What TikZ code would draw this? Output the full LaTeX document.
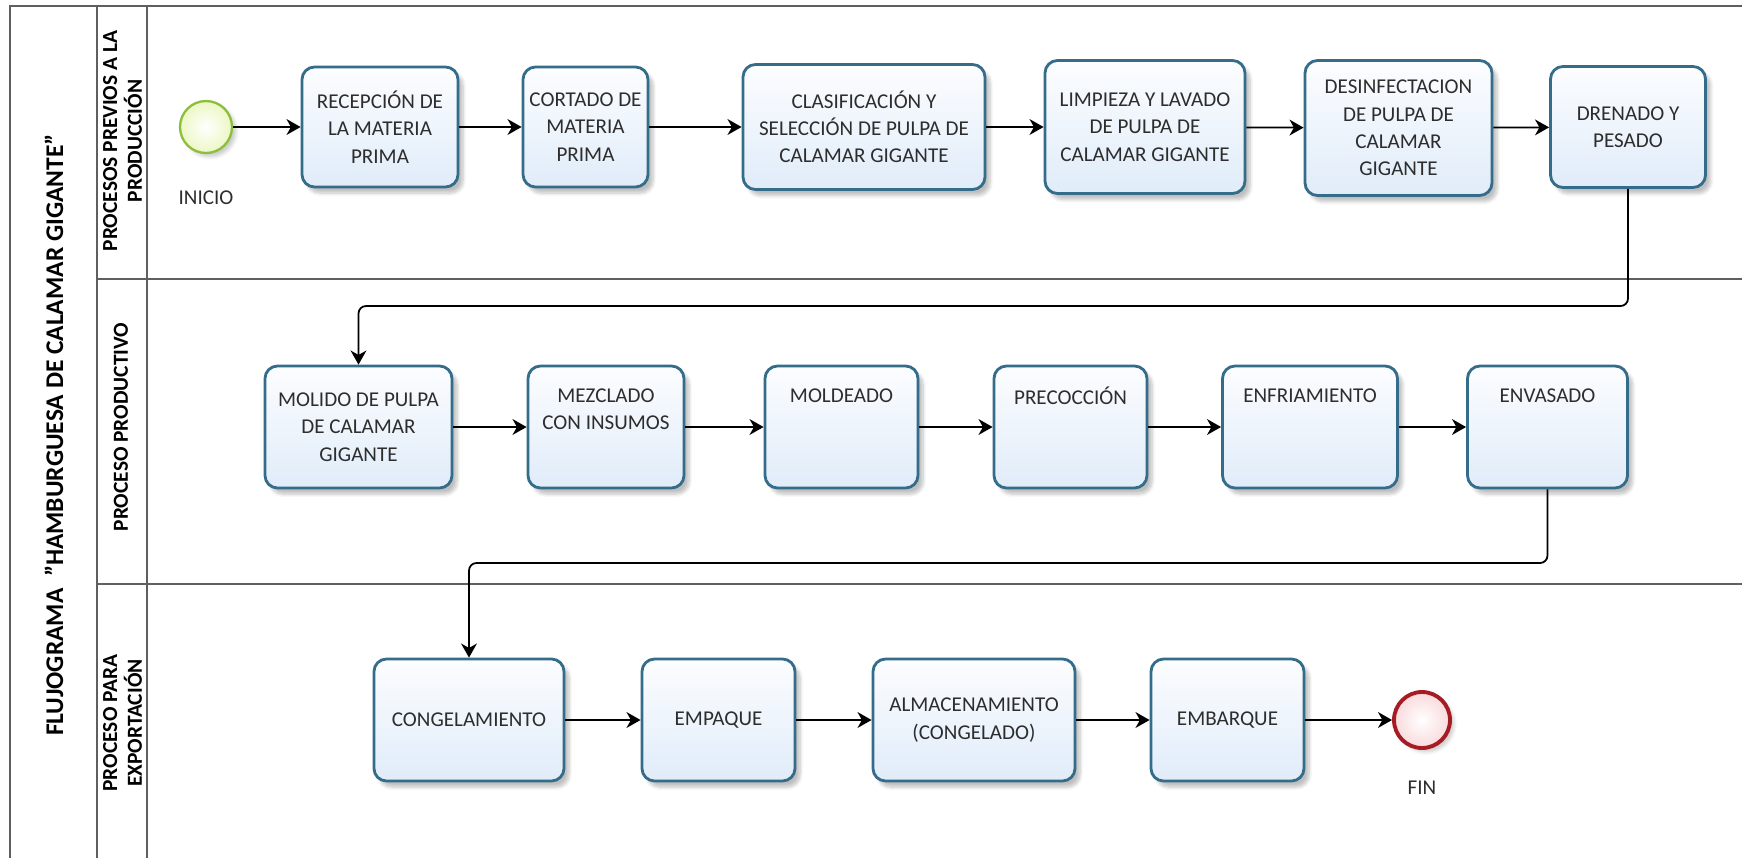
\documentclass[tikz,border=0pt]{standalone}
\usepackage{fontspec}
\setmainfont{Carlito}
\usetikzlibrary{arrows.meta,shadows.blur}
\definecolor{boxline}{RGB}{52,108,138}
\definecolor{boxtop}{RGB}{252,253,255}
\definecolor{boxbot}{RGB}{224,236,249}
\definecolor{laneline}{RGB}{95,95,95}
\definecolor{txt}{RGB}{45,45,45}
\definecolor{startline}{RGB}{140,190,60}
\definecolor{startfill}{RGB}{236,247,196}
\definecolor{endline}{RGB}{165,28,36}
\definecolor{endfill}{RGB}{249,218,220}
\tikzset{
  lane/.style={draw=laneline, line width=1.2pt},
  lanetext/.style={rotate=90, align=center, text=black,
      font=\bfseries\fontsize{12.2}{14}\selectfont}
}

\begin{document}
\begin{tikzpicture}[thick,
    main/.style = {draw=boxline, line width=1.6pt, rounded corners=0.25cm,
        top color=boxtop, bottom color=boxbot, align=center, inner sep=0pt,
        minimum height=2.44cm, text=txt, font=\fontsize{12}{15.5}\selectfont,
        blur shadow={shadow xshift=0.1cm, shadow yshift=-0.12cm,
            shadow opacity=25, shadow blur steps=6}},
    start/.style = {circle, draw=startline, line width=1.3pt, minimum size=1.04cm,
        inner color=white, outer color=startfill,
        blur shadow={shadow xshift=0.08cm, shadow yshift=-0.08cm, shadow opacity=20}},
    stop/.style = {circle, draw=endline, line width=2.2pt, minimum size=1.12cm,
        inner color=white, outer color=endfill,
        blur shadow={shadow xshift=0.08cm, shadow yshift=-0.08cm, shadow opacity=20}},
    tag/.style = {text=txt, font=\fontsize{12}{14}\selectfont},
    flow/.style = {-{Stealth[length=8pt, width=9pt, inset=2.5pt]}, line width=1pt, black}]

      \useasboundingbox (0,0) rectangle (34.84,-17.14);

      % marco y carriles
      \draw[lane] (0.2,-17.4) -- (0.2,-0.12) -- (35.2,-0.12);
      \draw[lane] (1.94,-0.12) -- (1.94,-17.4);
      \draw[lane] (2.94,-0.12) -- (2.94,-17.4);
      \draw[lane] (1.94,-5.58) -- (35.2,-5.58);
      \draw[lane] (1.94,-11.68) -- (35.2,-11.68);

      \node[lanetext, font=\bfseries\fontsize{14.5}{16}\selectfont] at (1.08,-8.7) (titulo)
          {FLUJOGRAMA\ \ "HAMBURGUESA DE CALAMAR GIGANTE"};
      \node[lanetext] at (2.45,-2.82) (carril1) {PROCESOS PREVIOS A LA\\PRODUCCIÓN};
      \node[lanetext] at (2.42,-8.54) (carril2) {PROCESO PRODUCTIVO};
      \node[lanetext] at (2.45,-14.46) (carril3) {PROCESO PARA\\EXPORTACIÓN};

      % procesos previos
      \node[start] at (4.12,-2.54) (inicio) {};
      \node[tag] at (4.12,-3.96) (inicio-txt) {INICIO};
      \node[main, minimum width=3.12cm, minimum height=2.4cm] at (7.6,-2.54) (recep)
          {RECEPCIÓN DE\\LA MATERIA\\PRIMA};
      \node[main, minimum width=2.5cm, minimum height=2.4cm] at (11.71,-2.54) (cortado)
          {CORTADO DE\\MATERIA\\PRIMA};
      \node[main, minimum width=4.84cm, minimum height=2.5cm] at (17.28,-2.54) (clasif)
          {CLASIFICACIÓN Y\\SELECCIÓN DE PULPA DE\\CALAMAR GIGANTE};
      \node[main, minimum width=4.0cm, minimum height=2.66cm] at (22.9,-2.54) (limpieza)
          {LIMPIEZA Y LAVADO\\DE PULPA DE\\CALAMAR GIGANTE};
      \node[main, minimum width=3.74cm, minimum height=2.7cm] at (27.97,-2.56) (desinf)
          {DESINFECTACION\\DE PULPA DE\\CALAMAR\\GIGANTE};
      \node[main, minimum width=3.1cm, minimum height=2.42cm] at (32.56,-2.54) (drenado)
          {DRENADO Y\\PESADO};

      % proceso productivo
      \node[main, minimum width=3.74cm] at (7.17,-8.54) (molido)
          {MOLIDO DE PULPA\\DE CALAMAR\\GIGANTE};
      \node[main, minimum width=3.12cm] at (12.12,-8.54) (mezclado)
          {MEZCLADO\\CON INSUMOS\\\strut};
      \node[main, minimum width=3.06cm] at (16.83,-8.54) (moldeado)
          {MOLDEADO\\\strut\\\strut};
      \node[main, minimum width=3.06cm] at (21.41,-8.54) (precoccion)
          {PRECOCCIÓN\\\strut\\\strut};
      \node[main, minimum width=3.5cm] at (26.2,-8.54) (enfriam)
          {ENFRIAMIENTO\\\strut\\\strut};
      \node[main, minimum width=3.2cm] at (30.95,-8.54) (envasado)
          {ENVASADO\\\strut\\\strut};

      % proceso para exportacion
      \node[main, minimum width=3.8cm] at (9.38,-14.4) (congel) {CONGELAMIENTO};
      \node[main, minimum width=3.06cm] at (14.37,-14.4) (empaque) {EMPAQUE};
      \node[main, minimum width=4.04cm] at (19.48,-14.4) (almacen)
          {ALMACENAMIENTO\\(CONGELADO)};
      \node[main, minimum width=3.06cm] at (24.55,-14.4) (embarque) {EMBARQUE};
      \node[stop] at (28.44,-14.4) (fin) {};
      \node[tag] at (28.44,-15.75) (fin-txt) {FIN};

      \coordinate (codo1) at (0,-6.12);
      \coordinate (codo2) at (0,-11.26);

      \path[flow]
      (inicio) edge (recep)
      (recep) edge (cortado)
      (cortado) edge (clasif)
      (clasif) edge (limpieza)
      (limpieza) edge (desinf)
      (desinf) edge (drenado)

      (molido) edge (mezclado)
      (mezclado) edge (moldeado)
      (moldeado) edge (precoccion)
      (precoccion) edge (enfriam)
      (enfriam) edge (envasado)

      (congel) edge (empaque)
      (empaque) edge (almacen)
      (almacen) edge (embarque)
      (embarque) edge (fin)
      ;

      \draw[flow, rounded corners=0.15cm] (drenado.south) |- (codo1 -| molido.north) -- (molido.north);
      \draw[flow, rounded corners=0.15cm] (envasado.south) |- (codo2 -| congel.north) -- (congel.north);

    \end{tikzpicture}
\end{document}
